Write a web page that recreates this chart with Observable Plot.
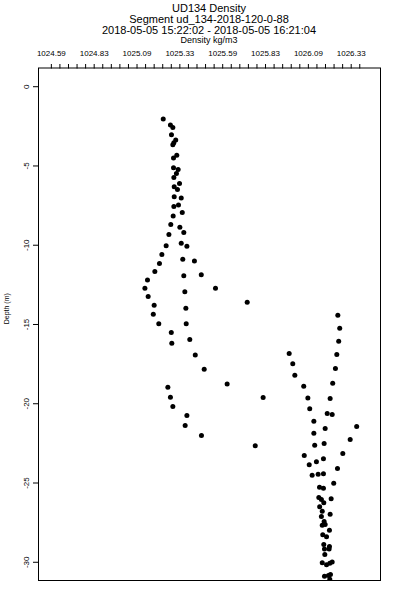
<!DOCTYPE html>
<html><head><meta charset="utf-8">
<script src="https://cdn.jsdelivr.net/npm/d3@7"></script>
<script src="https://cdn.jsdelivr.net/npm/@observablehq/plot@0.6"></script>
<style>
body{margin:0;background:#fff;font-family:"Liberation Sans",Arial,sans-serif;color:#000;}
#head{width:400px;height:45px;box-sizing:border-box;padding:3px 20px 0 38px;text-align:center;}
.t{font-size:11px;line-height:11px;height:11px;white-space:nowrap;}
.u{font-size:9px;line-height:9px;height:9px;white-space:nowrap;}
svg{display:block;}
</style></head><body>
<div id="head">
<div class="t">UD134 Density</div>
<div class="t">Segment ud_134-2018-120-0-88</div>
<div class="t">2018-05-05 15:22:02 - 2018-05-05 16:21:04</div>
<div class="u">Density kg/m3</div>
</div>
<div id="chart"></div>
<script>
// Density (kg/m3) and depth (m) of each sample
const density = [
1025.238,1025.280,1025.294,1025.286,1025.311,1025.300,1025.294,1025.317,1025.298,1025.298,
1025.325,1025.315,1025.300,1025.333,1025.302,1025.321,1025.302,1025.343,1025.300,1025.327,
1025.349,1025.296,1025.282,1025.335,1025.358,1025.271,1025.255,1025.343,1025.376,1025.230,
1025.352,1025.420,1025.216,1025.189,1025.358,1025.460,1025.146,1025.131,1025.543,1025.150,
1025.364,1025.185,1025.728,1025.370,1025.180,1025.212,1025.372,1025.285,1025.393,1025.288,
1025.425,1025.477,1025.611,1025.265,1025.821,1025.280,1025.294,1025.376,1025.366,1025.461,
1025.775,
1026.257,1026.268,1026.262,1025.973,1026.251,1025.994,1026.243,1026.006,1026.227,1026.058,
1026.082,1026.212,1026.093,1026.195,1026.224,1026.117,1026.367,1026.183,1026.117,1026.329,
1026.122,1026.177,1026.061,1026.286,1026.090,1026.132,1026.173,1026.255,1026.107,1026.142,
1026.173,1026.233,1026.150,1026.173,1026.146,1026.161,1026.218,1026.175,1026.151,1026.166,
1026.212,1026.161,1026.177,1026.166,1026.183,1026.208,1026.169,1026.191,1026.175,1026.208,
1026.179,1026.206,1026.181,1026.166,1026.191,1026.210,1026.224,1026.179,1026.202,1026.214,
1026.210
];
const depth = [
-2.04,-2.41,-2.57,-3.03,-3.36,-3.53,-3.66,-4.33,-4.50,-5.11,
-5.23,-5.47,-5.72,-6.10,-6.31,-6.48,-6.94,-7.02,-7.55,-7.46,
-7.94,-8.15,-8.70,-8.87,-9.19,-9.33,-10.04,-9.88,-10.07,-10.59,
-10.89,-10.99,-11.16,-11.66,-11.92,-11.87,-12.19,-12.72,-12.72,-13.24,
-12.94,-13.79,-13.60,-13.98,-14.36,-14.96,-14.96,-15.51,-15.95,-16.19,
-16.92,-17.82,-18.75,-18.96,-19.61,-19.59,-20.18,-20.74,-21.37,-22.00,
-22.65,
-14.42,-15.24,-16.06,-16.83,-16.90,-17.48,-17.78,-18.20,-18.71,-18.90,
-19.63,-19.67,-20.32,-20.62,-20.68,-21.10,-21.44,-21.56,-21.86,-22.26,
-22.62,-22.51,-23.27,-23.14,-23.85,-23.66,-23.47,-24.09,-24.51,-24.44,
-24.42,-25.01,-25.26,-25.33,-25.91,-26.04,-26.00,-26.25,-26.50,-26.78,
-26.97,-27.11,-27.43,-27.66,-27.62,-27.98,-28.27,-28.39,-28.88,-29.00,
-29.17,-29.17,-29.51,-30.03,-30.16,-30.06,-29.99,-30.88,-30.83,-30.77,
-31.07
];
// Axis ticks and labels
const xDomain = [1024.510, 1026.506];
const yDomain = [-31.15, 1.18];
const xLabelTicks = [1024.585,1024.835,1025.085,1025.335,1025.585,1025.835,1026.085,1026.335];
const xTickLabels = ["1024.59","1024.83","1025.09","1025.33","1025.59","1025.83","1026.09","1026.33"];
const xMinorTicks = d3.range(37).map(k => 1024.585 + 0.05 * k);
const yTicks = [0,-5,-10,-15,-20,-25,-30];
const yTickLabels = ["0","-5","-10","-15","-20","-25","-30"];

const data = density.map((x, i) => ({x, y: depth[i]}));
const chart = Plot.plot({
  width: 400, height: 555,
  marginLeft: 38, marginRight: 20, marginTop: 22.5, marginBottom: 20,
  style: {fontFamily: "Liberation Sans, Arial, sans-serif", color: "black", background: "white", overflow: "visible"},
  x: {domain: xDomain},
  y: {domain: yDomain},
  marks: [
    Plot.frame({stroke: "black", strokeWidth: 1}),
    Plot.axisX({anchor: "top", ticks: xMinorTicks, tickSize: 4.5, tickFormat: () => "", label: null, stroke: "black"}),
    Plot.axisX({anchor: "top", ticks: xLabelTicks, tickSize: 0, tickPadding: 12.5, fontSize: 8, label: null,
      tickFormat: d => xTickLabels[xLabelTicks.indexOf(d)]}),
    Plot.axisY({anchor: "left", ticks: yTicks, tickSize: 5, tickRotate: -90, tickPadding: 5, fontSize: 8, label: null,
      stroke: "black", tickFormat: d => yTickLabels[yTicks.indexOf(d)]}),
    Plot.text(["Depth (m)"], {frameAnchor: "left", dx: -32, rotate: -90, fontSize: 7}),
    Plot.dot(data, {x: "x", y: "y", r: 2.5, fill: "black", stroke: null, clip: true})
  ]
});
document.getElementById("chart").appendChild(chart);
</script>
</body></html>
